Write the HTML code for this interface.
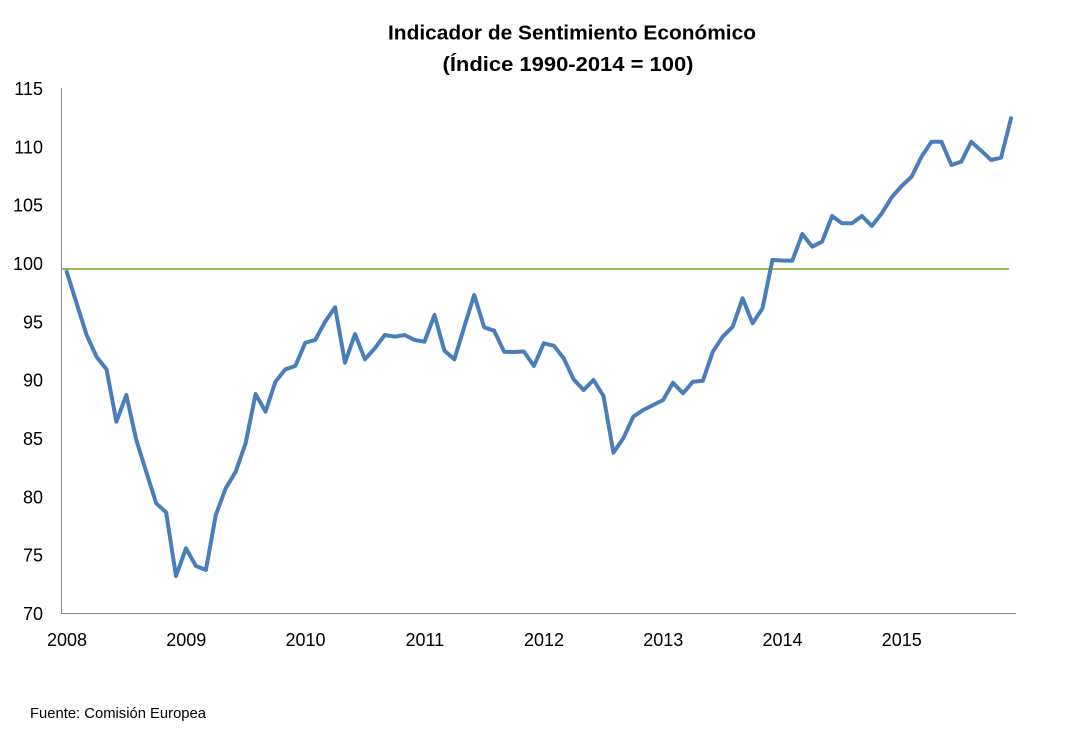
<!DOCTYPE html>
<html>
<head>
<meta charset="utf-8">
<style>
html,body{margin:0;padding:0;background:#fff;}
svg{display:block;}
text{font-family:"Liberation Sans",sans-serif;fill:#000;}
</style>
</head>
<body>
<svg width="1077" height="729" viewBox="0 0 1077 729" xmlns="http://www.w3.org/2000/svg">
<rect width="1077" height="729" fill="#fff"/>
<text x="572" y="39.3" font-size="20.5" font-weight="bold" text-anchor="middle" textLength="368" lengthAdjust="spacingAndGlyphs">Indicador de Sentimiento Económico</text>
<text x="568" y="71" font-size="20.5" font-weight="bold" text-anchor="middle" textLength="251" lengthAdjust="spacingAndGlyphs">(Índice 1990-2014 = 100)</text>

<g font-size="18" text-anchor="end">
<text x="43" y="95">115</text>
<text x="43" y="153.3">110</text>
<text x="43" y="211.7">105</text>
<text x="43" y="270">100</text>
<text x="43" y="328.3">95</text>
<text x="43" y="386.7">90</text>
<text x="43" y="445">85</text>
<text x="43" y="503.3">80</text>
<text x="43" y="561.7">75</text>
<text x="43" y="620">70</text>
</g>

<g font-size="18" text-anchor="middle">
<text x="67" y="646">2008</text>
<text x="186.3" y="646">2009</text>
<text x="305.5" y="646">2010</text>
<text x="424.8" y="646">2011</text>
<text x="544" y="646">2012</text>
<text x="663.3" y="646">2013</text>
<text x="782.5" y="646">2014</text>
<text x="901.8" y="646">2015</text>
</g>

<line x1="61.5" y1="88" x2="61.5" y2="613.5" stroke="#868686" stroke-width="1"/>
<line x1="61" y1="613.5" x2="1016" y2="613.5" stroke="#868686" stroke-width="1"/>

<line x1="62" y1="269" x2="1009" y2="269" stroke="#9BBB59" stroke-width="2"/>

<polyline fill="none" stroke="#4A7EBB" stroke-width="4" stroke-linejoin="round" stroke-linecap="round" points="
66.7,271.7 76.6,303.3 86.6,335 96.5,356.7 106.5,369.3 116.4,421.7 126.3,395 136.3,440 146.2,471.7 156.2,503.3
166.1,512.3 176.0,576 186.0,548.3 195.9,566 205.9,570 215.8,515 225.7,488.3 235.7,471.7 245.6,443.3 255.6,394
265.5,411.7 275.4,381.7 285.4,369.3 295.3,366 305.3,342.7 315.2,340 325.1,321.7 335.1,307.3 345.0,362.7 355.0,334
364.9,359.3 374.8,348.3 384.8,335 394.7,336.7 404.7,335 414.6,340 424.5,341.7 434.5,315 444.4,350.7 454.4,359.3
464.3,326.7 474.2,295 484.2,327.3 494.1,330.7 504.1,351.7 514.0,352 523.9,351.5 533.9,366 543.8,343.3 553.8,345.7
563.7,358.3 573.6,379.3 583.6,390 593.5,380 603.5,396 613.4,452.7 623.3,438.3 633.3,416.7 643.2,410 653.2,405
663.1,400 673.0,382.7 683.0,393.3 692.9,381.7 702.9,380.7 712.8,351.7 722.7,336.7 732.7,326.7 742.6,298.3 752.6,323.3
762.5,308.3 772.4,260 782.4,260.5 792.3,260.7 802.3,234 812.2,246.7 822.1,241.7 832.1,216 842.0,223.3 852.0,223.3
861.9,216 871.8,226 881.8,213.3 891.7,197.3 901.7,186 911.6,176.7 921.5,156.7 931.5,141.7 941.4,141.7 951.4,165
961.3,161.7 971.2,141.7 981.2,150.7 991.1,160 1001.1,157.7 1011.0,118.3"/>

<text x="30" y="718" font-size="15" textLength="176" lengthAdjust="spacingAndGlyphs">Fuente: Comisión Europea</text>
</svg>
</body>
</html>
